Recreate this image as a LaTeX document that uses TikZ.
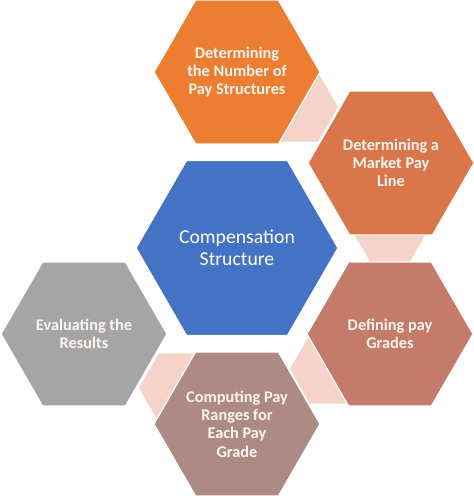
\documentclass[tikz,border=0pt]{standalone}
\usepackage{fontspec}
\setmainfont{Carlito}
\usetikzlibrary{shapes.geometric}
\definecolor{cBlue}{HTML}{4472C4}
\definecolor{cOrange}{HTML}{ED7D31}
\definecolor{cMarket}{HTML}{D9774B}
\definecolor{cDefine}{HTML}{C47B6A}
\definecolor{cCompute}{HTML}{AE8A84}
\definecolor{cGray}{HTML}{A5A5A5}
\definecolor{cLink}{HTML}{F5D3C8}
\definecolor{cText}{HTML}{FDF4F0}
\tikzset{
 hexbox/.style={regular polygon, regular polygon sides=6, inner sep=0pt, minimum size=166pt, draw=white, line width=1.2pt, align=center, text=cText, font=\bfseries\fontsize{16.3}{18.3}\selectfont},
 centerbox/.style={hexbox, minimum size=202pt, fill=cBlue, text=white, font=\fontsize{19.7}{21.7}\selectfont},
 linkbox/.style={regular polygon, regular polygon sides=6, inner sep=0pt, minimum size=80pt, fill=cLink, draw=none},
}
\begin{document}
\begin{tikzpicture}[x=1pt,y=-1pt]
\useasboundingbox[fill=white] (0,0) rectangle (474,496);
\node[linkbox] (l1) at (298,107) {};
\node[linkbox] (l2) at (390,227) {};
\node[linkbox] (l3) at (330,369) {};
\node[linkbox] (l4) at (179,388) {};
\node[centerbox] (core) at (237,248) {Compensation\\Structure};
\node[hexbox, fill=cOrange] (s1) at (237,72) {Determining\\the Number of\\Pay Structures};
\node[hexbox, fill=cMarket] (s2) at (391,163) {Determining a\\Market Pay\\Line};
\node[hexbox, fill=cDefine] (s3) at (390,334) {Defining pay\\Grades};
\node[hexbox, fill=cCompute] (s4) at (237,424) {Computing Pay\\Ranges for\\Each Pay\\Grade};
\node[hexbox, fill=cGray] (s5) at (84,334) {Evaluating the\\Results};
\end{tikzpicture}
\end{document}
